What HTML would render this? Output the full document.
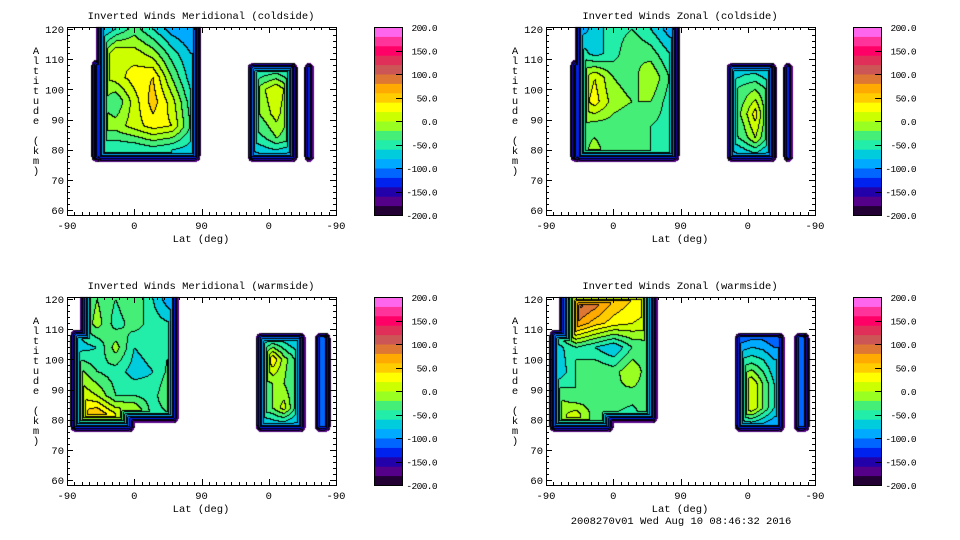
<!DOCTYPE html>
<html><head><meta charset="utf-8"><style>
html,body{margin:0;padding:0;background:#fff;}
#wrap{position:relative;width:960px;height:540px;overflow:hidden;}
canvas,svg{position:absolute;left:0;top:0;}
text{font-family:"Liberation Mono",monospace;font-size:10.5px;fill:#000;}
text.cbl{font-size:9.5px;letter-spacing:-0.6px;}
</style></head><body>
<div id="wrap">
<canvas id="cv" width="960" height="540"></canvas>
<svg id="sv" width="960" height="540"></svg>
</div>
<script>
// ---- data ----
const levelColors = ["#220033","#550088","#2200aa","#0022ee","#0066ff","#00aaff","#00ccdd","#22eeaa","#44ee77","#99ff22","#ccff00","#ffff00","#ffcc00","#ffaa00","#dd7733","#cc5555","#e0305a","#ff0066","#ff3399","#ff66ee"];
const colorbarLabels = ["200.0","150.0","100.0","50.0","0.0","-50.0","-100.0","-150.0","-200.0"];
const yTicks = [60,70,80,90,100,110,120];
const xTickLabels = ["-90","0","90","0","-90"];
const panelTitles = ["Inverted Winds Meridional (coldside)","Inverted Winds Zonal (coldside)","Inverted Winds Meridional (warmside)","Inverted Winds Zonal (warmside)"];

const coldAcols = [40,65,90,115,140,165];
const coldArows = [120,112,104,96,88,80];
const coldBcols = [250,265,280,295];
const warmAcols = [15,40,65,90,115,140];
const warmArows = [120,112,104,96,88,82];
const warmBcols = [260,275,290,305];
const bRows = [108,100,92,84,78];

const coldMerA = [[-90,-60,-30,-60,-90,-100],[-40,20,10,-10,-50,-80],[-10,10,30,40,-20,-70],[-10,-40,10,50,10,-50],[-10,-10,10,30,20,-40],[-60,-60,-60,-50,-60,-70]];
const coldMerB = [[-80,-70,-70,-80],[-20,0,20,-10],[-30,-10,10,-20],[-50,-40,-20,-30],[-90,-80,-80,-90]];
const coldZonA = [[-100,-70,-50,-40,-60,-90],[-40,-70,-50,-20,-30,-60],[-20,20,-20,-30,0,-40],[0,30,-10,-20,-20,-50],[-20,-30,-30,-40,-40,-50],[-40,-10,-40,-40,-40,-60]];
const coldZonB = [[-90,-80,-80,-90],[-40,-30,-20,-40],[-40,-10,30,-30],[-50,-30,0,-40],[-90,-80,-70,-90]];
const warmMerA = [[-60,-20,-40,-20,-60,-100],[-50,-10,-50,-30,-50,-60],[-70,-60,-10,-60,-50,-40],[-10,-40,-50,-70,-60,-30],[20,0,-40,-40,-50,-10],[40,60,20,10,-50,-40]];
const warmMerB = [[-90,-80,-80,-90],[-20,40,-10,-40],[-30,-20,-20,-40],[-30,-20,10,-40],[-90,-80,-80,-90]];
const warmZonA = [[40,120,100,60,40,30],[-20,80,50,30,20,10],[-70,-40,-60,-80,-40,-30],[-80,-40,-20,-30,0,-40],[-20,-40,-30,-20,-30,-30],[-10,10,-30,-40,-50,-20]];
const warmZonB = [[-120,-110,-110,-120],[-60,-50,-60,-80],[0,20,-20,-60],[10,20,-20,-60],[-90,-80,-90,-100]];
const coldCval = [-110];
const warmCval = [-110];

// ---- geometry ----
const PX0=67, PW=269, PY0=27, PH=188;
function xOf(u){return PX0+u*PW/360;}
function yOf(a){return 210-(a-60)*181/60;}
const panelOffsets=[[0,0],[479,0],[0,270],[479,270]];

const coldMasksA=[[38,178,76,125],[32,46,76,110]];
const coldMasksB=[[241,308,76,109]];
const coldMasksC=[[317,330,76,109]];
const warmMasksA=[[17,149,79,125],[4,90,76,110]];
const warmMasksB=[[252,319,76,109]];
const warmMasksC=[[331,352,76,109]];

const panels=[
 [{m:coldMasksA,c:coldAcols,r:coldArows,v:coldMerA},{m:coldMasksB,c:coldBcols,r:bRows,v:coldMerB},{m:coldMasksC,c:[320],r:[100],v:[coldCval]}],
 [{m:coldMasksA,c:coldAcols,r:coldArows,v:coldZonA},{m:coldMasksB,c:coldBcols,r:bRows,v:coldZonB},{m:coldMasksC,c:[320],r:[100],v:[coldCval]}],
 [{m:warmMasksA,c:warmAcols,r:warmArows,v:warmMerA},{m:warmMasksB,c:warmBcols,r:bRows,v:warmMerB},{m:warmMasksC,c:[340],r:[100],v:[warmCval]}],
 [{m:warmMasksA,c:warmAcols,r:warmArows,v:warmZonA},{m:warmMasksB,c:warmBcols,r:bRows,v:warmZonB},{m:warmMasksC,c:[340],r:[100],v:[warmCval]}]
];

function interp1(arr,x){
  const n=arr.length; if(n===1) return [0,0];
  const asc=arr[n-1]>arr[0];
  for(let i=0;i<n-1;i++){
    const a=arr[i],b=arr[i+1];
    const inside=asc?(x<=b):(x>=b);
    if(inside||i===n-2){let t=(x-a)/(b-a);t=Math.max(0,Math.min(1,t));return [i,t];}
  }
  return [0,0];
}
function gridVal(bl,u,a){
  if(bl.c.length===1) return bl.v[0][0];
  const [i,ti]=interp1(bl.c,u),[j,tj]=interp1(bl.r,a);
  const v=bl.v;
  const v00=v[j][i],v01=v[j][i+1],v10=v[j+1][i],v11=v[j+1][i+1];
  return (v00*(1-ti)+v01*ti)*(1-tj)+(v10*(1-ti)+v11*ti)*tj;
}
function rrDepth(px,py,rc){
  const x0=xOf(rc[0]),x1=xOf(rc[1]),y0=yOf(rc[3]),y1=yOf(rc[2]);
  const r=6,cx=(x0+x1)/2,cy=(y0+y1)/2,hx=(x1-x0)/2,hy=(y1-y0)/2;
  const qx=Math.abs(px-cx)-(hx-r),qy=Math.abs(py-cy)-(hy-r);
  const sdf=Math.hypot(Math.max(qx,0),Math.max(qy,0))+Math.min(Math.max(qx,qy),0)-r;
  return -sdf;
}
const cv=document.getElementById('cv'),ctx=cv.getContext('2d');
ctx.fillStyle='#fff';ctx.fillRect(0,0,960,540);
const img=ctx.getImageData(0,0,960,540);
const rgb=levelColors.map(h=>[parseInt(h.substr(1,2),16),parseInt(h.substr(3,2),16),parseInt(h.substr(5,2),16)]);
panels.forEach((blobs,pi)=>{
  const [ox,oy]=panelOffsets[pi];
  const N=(PW+1)*(PH+1);
  const band=new Int16Array(N).fill(-1);
  for(let y=0;y<=PH;y++)for(let x=0;x<=PW;x++){
    const px=PX0+x,py=PY0+y;
    const u=(px-PX0)*360/PW,a=60+(210-py)*60/181;
    let best=-1e9;
    blobs.forEach(bl=>{
      let d=-1e9; bl.m.forEach(rc=>{d=Math.max(d,rrDepth(px,py,rc));});
      if(d<0) return;
      const v=Math.min(gridVal(bl,u,a),-182+d*13);
      if(v>best) best=v;
    });
    if(best>-1e8) band[y*(PW+1)+x]=Math.max(0,Math.min(19,Math.floor((best+200)/20)));
  }
  for(let y=0;y<=PH;y++)for(let x=0;x<=PW;x++){
    const idx=y*(PW+1)+x,b=band[idx]; if(b<0) continue;
    let col=rgb[b];
    const ri=x<PW?idx+1:idx, di=y<PH?idx+PW+1:idx;
    if((band[ri]>=0&&band[ri]!==b)||(band[di]>=0&&band[di]!==b)) col=[0,0,0];
    const k=((PY0+oy+y)*960+(PX0+ox+x))*4;
    img.data[k]=col[0];img.data[k+1]=col[1];img.data[k+2]=col[2];img.data[k+3]=255;
  }
});
ctx.putImageData(img,0,0);

// ---- axes / text ----
const NS='http://www.w3.org/2000/svg',sv=document.getElementById('sv');
function el(t,at,parent,txt){const e=document.createElementNS(NS,t);for(const k in at)e.setAttribute(k,at[k]);if(txt!==undefined)e.textContent=txt;(parent||sv).appendChild(e);return e;}
panelOffsets.forEach(([ox,oy],pi)=>{
  const g=el('g',{transform:`translate(${ox},${oy})`});
  
  
  const fr=el('rect',{x:PX0+0.5,y:PY0+0.5,width:PW,height:PH,fill:'none',stroke:'#000','stroke-width':1},g);
  
  
  let d='';
  for(let a=60;a<=120;a+=2){const y=Math.round(yOf(a))+0.5,L=(a%10===0)?6:3;d+=`M${PX0} ${y}h${L}M${PX0+PW} ${y}h${-L}`;}
  for(let u=0;u<=360;u+=10){const x=Math.round(xOf(u))+0.5,L=(u%90===0)?6:3;d+=`M${x} ${PY0+PH}v${-L}M${x} ${PY0}v${L}`;}
  const tk=el('path',{d:d,stroke:'#000','stroke-width':1,fill:'none'},g);
  
  
  yTicks.forEach(a=>{const t=el('text',{x:64,y:yOf(a)+4,'text-anchor':'end'},g,String(a));
    
    });
  xTickLabels.forEach((s,i)=>{const t=el('text',{x:xOf(i*90),y:229,'text-anchor':'middle'},g,s);
    
    });
  const xt=el('text',{x:201,y:242,'text-anchor':'middle'},g,'Lat (deg)');
  
  
  const tt=el('text',{x:201,y:19,'text-anchor':'middle'},g,panelTitles[pi]);
  
  
  const yl=el('g',{},g);
  
  
  'Altitude (km)'.split('').forEach((ch,i)=>{el('text',{x:36,y:54+i*10,'text-anchor':'middle'},yl,ch);});
  const cb=el('g',{},g);
  
  
  const bh=PH/20;
  levelColors.forEach((c,i)=>{el('rect',{x:374,y:PY0+PH-(i+1)*bh,width:28,height:bh+0.5,fill:c},cb);});
  el('rect',{x:374.5,y:PY0+0.5,width:28,height:PH,fill:'none',stroke:'#000'},cb);
  colorbarLabels.forEach((s,i)=>{const y=PY0+i*PH/8;
    el('path',{d:`M396 ${Math.round(y)+0.5}h6`,stroke:'#000'},cb);
    const t=el('text',{x:437,y:y+4,'text-anchor':'end','class':'cbl'},cb,s);
    
    });
});
const ft=el('text',{x:681,y:524,'text-anchor':'middle'},sv,'2008270v01 Wed Aug 10 08:46:32 2016');


</script>
</body></html>
